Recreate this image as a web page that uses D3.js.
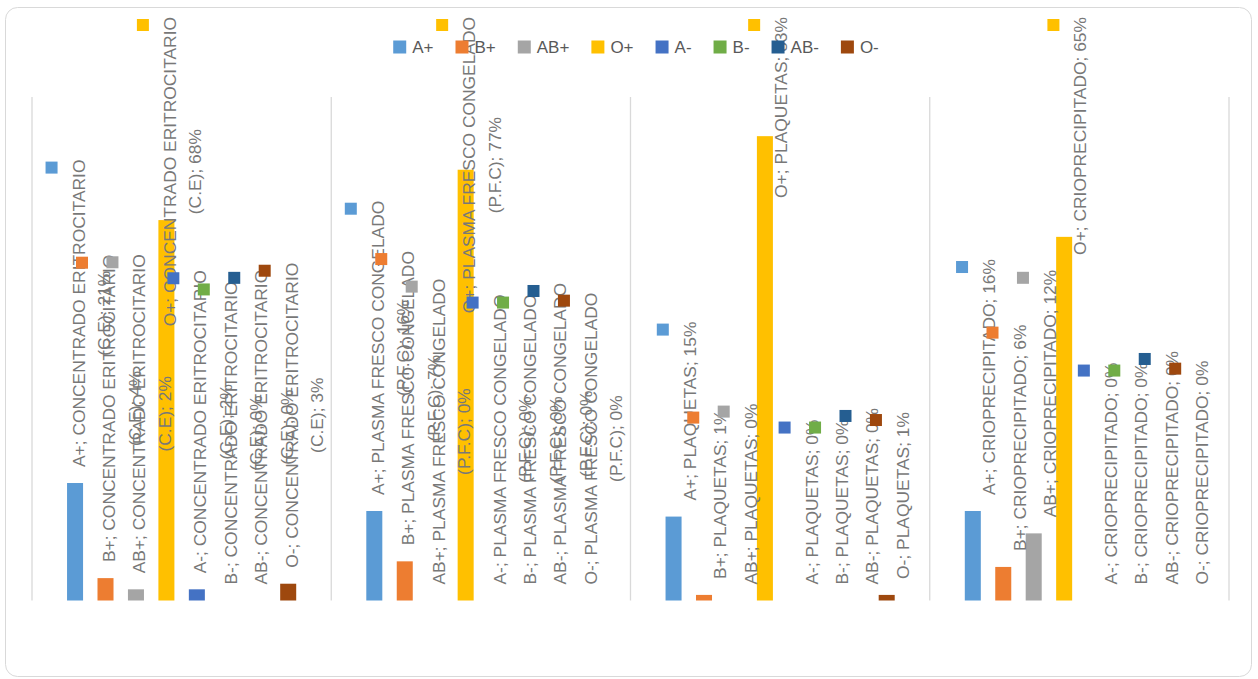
<!DOCTYPE html>
<html>
<head>
<meta charset="utf-8">
<script src="https://cdn.jsdelivr.net/npm/d3@7"></script>
<style>
  body { margin: 0; background: #fff; }
  svg { display: block; font-family: "Liberation Sans", Arial, sans-serif; }
</style>
</head>
<body>
<div id="chart"></div>
<script>
// categories and series
const categories = ["CONCENTRADO ERITROCITARIO (C.E)", "PLASMA FRESCO CONGELADO (P.F.C)", "PLAQUETAS", "CRIOPRECIPITADO"];
const seriesNames = ["A+", "B+", "AB+", "O+", "A-", "B-", "AB-", "O-"];
const seriesColors = ["#5B9BD5", "#ED7D31", "#A5A5A5", "#FFC000", "#4472C4", "#70AD47", "#255E91", "#9E480E"];

// values per series, one per category
const aPos  = [0.21, 0.16, 0.15, 0.16];
const bPos  = [0.04, 0.07, 0.01, 0.06];
const abPos = [0.02, 0.00, 0.00, 0.12];
const oPos  = [0.68, 0.77, 0.83, 0.65];
const aNeg  = [0.02, 0.00, 0.00, 0.00];
const bNeg  = [0.00, 0.00, 0.00, 0.00];
const abNeg = [0.00, 0.00, 0.00, 0.00];
const oNeg  = [0.03, 0.00, 0.01, 0.00];

const seriesValues = [aPos, bPos, abPos, oPos, aNeg, bNeg, abNeg, oNeg];

const width = 1258, height = 679;
const plot = {left: 32, right: 1229, top: 97, bottom: 600.5};

const svg = d3.select("#chart").append("svg")
    .attr("width", width)
    .attr("height", height);

svg.append("rect")
    .attr("x", 5.5).attr("y", 7.5)
    .attr("width", 1246).attr("height", 669)
    .attr("rx", 12)
    .attr("fill", "#fff")
    .attr("stroke", "#D9D9D9");

const x0 = d3.scaleBand().domain(categories).range([plot.left, plot.right]).padding(0);
const x1 = d3.scaleBand().domain(seriesNames).range([0, x0.bandwidth()])
    .paddingInner(0.474).paddingOuter(1.151);
const y = d3.scaleLinear().domain([0, 0.9]).range([plot.bottom, plot.top]);

// vertical separators between categories
const sepX = categories.map(c => x0(c)).concat([plot.right]);
svg.append("g").selectAll("line")
    .data(sepX)
    .join("line")
    .attr("x1", d => d).attr("x2", d => d)
    .attr("y1", plot.top).attr("y2", plot.bottom)
    .attr("stroke", "#D9D9D9")
    .attr("stroke-width", 1.3);

// flat data
const rows = [];
seriesNames.forEach((s, i) => {
    categories.forEach((c, j) => {
        rows.push({series: s, cat: c, value: seriesValues[i][j], color: seriesColors[i]});
    });
});

svg.append("g").selectAll("rect")
    .data(rows)
    .join("rect")
    .attr("x", d => x0(d.cat) + x1(d.series))
    .attr("width", x1.bandwidth())
    .attr("y", d => y(d.value))
    .attr("height", d => plot.bottom - y(d.value))
    .attr("fill", d => d.color);

// data labels (rotated, wrapped, with legend key)
const fmt = d3.format(".0%");
const labelFont = 17.4, lineStep = 25.5, maxLine = 335;
const labels = svg.append("g").attr("fill", "#787878").attr("font-size", labelFont);

const measure = labels.append("text").attr("visibility", "hidden");
function textLen(t) {
    measure.text(t);
    return measure.node().getComputedTextLength();
}

rows.forEach(d => {
    const words = `${d.series}; ${d.cat}; ${fmt(d.value)}`.split(" ");
    const lines = [];
    let cur = "";
    words.forEach(w => {
        const test = cur ? cur + " " + w : w;
        if (cur && textLen(test) > maxLine) {
            lines.push(cur);
            cur = w;
        } else {
            cur = test;
        }
    });
    lines.push(cur);
    const longest = d3.max(lines, l => textLen(l));

    const barCx = x0(d.cat) + x1(d.series) + x1.bandwidth() / 2;
    const boxW = 39.5 + (lines.length - 1) * lineStep;
    const left = barCx + 3 - boxW / 2;
    let cy = y(d.value) - 16 - longest / 2;
    cy = Math.max(cy, 17 + longest / 2);
    const top = cy - longest / 2;

    labels.append("rect")
        .attr("x", left).attr("y", top + 2)
        .attr("width", 12).attr("height", 12)
        .attr("fill", d.color);

    lines.forEach((l, k) => {
        const cx = left + 33 + k * lineStep;
        labels.append("text")
            .attr("transform", `translate(${cx + 6},${cy}) rotate(-90)`)
            .attr("text-anchor", "middle")
            .text(l);
    });
});
measure.remove();

// legend
const legendFont = 17, keySize = 13, keyGap = 6, itemGap = 22;
const legend = svg.append("g").attr("font-size", legendFont).attr("fill", "#595959");
const tmp = legend.append("text").attr("visibility", "hidden");
const itemW = seriesNames.map(s => {
    tmp.text(s);
    return keySize + keyGap + tmp.node().getComputedTextLength();
});
tmp.remove();
const totalW = d3.sum(itemW) + itemGap * (seriesNames.length - 1);
let lx = 636 - totalW / 2;
seriesNames.forEach((s, i) => {
    legend.append("rect")
        .attr("x", lx).attr("y", 40.5)
        .attr("width", keySize).attr("height", keySize)
        .attr("fill", seriesColors[i]);
    legend.append("text")
        .attr("x", lx + keySize + keyGap)
        .attr("y", 53)
        .text(s);
    lx += itemW[i] + itemGap;
});
</script>
</body>
</html>
